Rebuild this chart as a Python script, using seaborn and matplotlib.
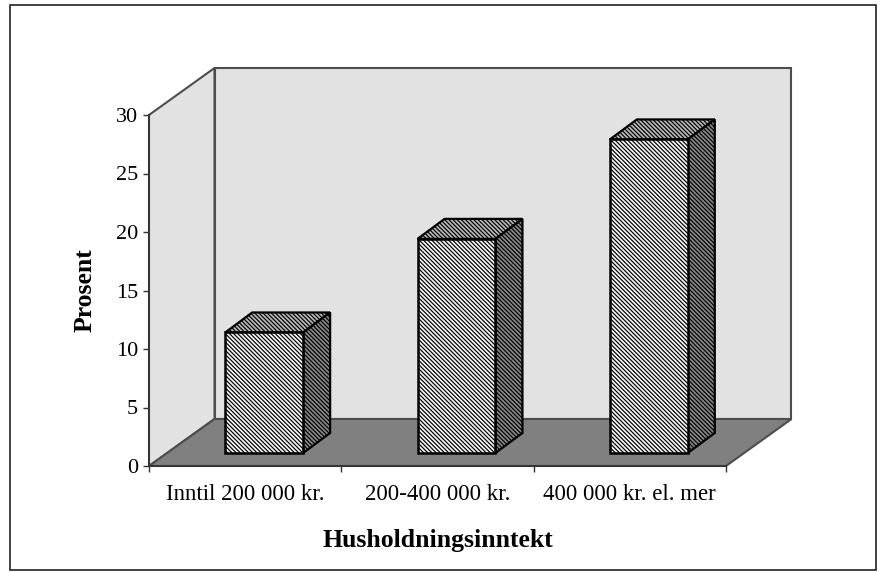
import matplotlib
matplotlib.use("Agg")
import matplotlib.pyplot as plt
from matplotlib.patches import Polygon, Rectangle
from matplotlib.transforms import Affine2D
import seaborn as sns

categories = ["Inntil 200 000 kr.", "200-400 000 kr.", "400 000 kr. el. mer"]
values = [10.3, 18.3, 26.8]
y_ticks = [0, 5, 10, 15, 20, 25, 30]
x_label = "Husholdningsinntekt"
y_label = "Prosent"

W, H = 886, 572
AX_L, AX_R, AX_T, AX_B = 149, 726, 115, 466
sns.set_theme(style="white")
plt.rcParams["font.family"] = ["Liberation Serif", "DejaVu Serif"]
plt.rcParams["hatch.linewidth"] = 0.85

fig = plt.figure(figsize=(W / 100, H / 100), dpi=100, facecolor="white")
ax = fig.add_axes([AX_L / W, 1 - AX_B / H, (AX_R - AX_L) / W, (AX_B - AX_T) / H])
ax.set_facecolor("none")

sns.barplot(x=categories, y=values, color="#f4f4f4", saturation=1, width=0.405,
            edgecolor="black", linewidth=1.8, ax=ax, zorder=3)
ax.set_xlim(-0.5, 2.5)
ax.set_ylim(0, 30)

px = (AX_R - AX_L) / 3
py = (AX_B - AX_T) / 30
wall_dx, wall_dy = 65.5 / px, 47 / py       # depth of the chart box
bar_ox, bar_oy = 19 / px, 13 / py           # bars stand inside the floor
bar_dx, bar_dy = 27 / px, 20 / py           # depth of one bar

wall = "#e2e2e2"
line = "#4d4d4d"
x0, x1 = -0.5, 2.5
pk = dict(closed=True, clip_on=False, zorder=0.5)
ax.add_patch(Polygon([(x0 + wall_dx, wall_dy), (x1 + wall_dx, wall_dy),
                      (x1 + wall_dx, 30 + wall_dy), (x0 + wall_dx, 30 + wall_dy)],
                     fc=wall, ec=line, lw=1.5, **pk))
ax.add_patch(Polygon([(x0, 0), (x0 + wall_dx, wall_dy), (x0 + wall_dx, 30 + wall_dy), (x0, 30)],
                     fc=wall, ec=line, lw=1.5, **pk))
ax.add_patch(Polygon([(x0, 0), (x1, 0), (x1 + wall_dx, wall_dy), (x0 + wall_dx, wall_dy)],
                     fc="#808080", ec=line, lw=1.5, **pk))

hatch = "\\" * 8
for bar in list(ax.patches):
    if not isinstance(bar, Rectangle):
        continue
    bx, bw, bh = bar.get_x(), bar.get_width(), bar.get_height()
    bar.set_transform(Affine2D().translate(bar_ox, bar_oy) + ax.transData)
    bar.set_clip_on(False)
    bar.set_hatch(hatch)
    l, r = bx + bar_ox, bx + bw + bar_ox
    b, t = bar_oy, bh + bar_oy
    ax.add_patch(Polygon([(l, t), (r, t), (r + bar_dx, t + bar_dy), (l + bar_dx, t + bar_dy)],
                         closed=True, fc="#b8b8b8", ec="black", lw=1.6, hatch=hatch,
                         clip_on=False, zorder=2.8))
    ax.add_patch(Polygon([(r, b), (r + bar_dx, b + bar_dy), (r + bar_dx, t + bar_dy), (r, t)],
                         closed=True, fc="#888888", ec="black", lw=1.6, hatch=hatch,
                         clip_on=False, zorder=2.8))

sns.despine(ax=ax, top=True, right=True)
for s in ("left", "bottom"):
    ax.spines[s].set_color("#333333")
    ax.spines[s].set_linewidth(1.3)
    ax.spines[s].set_zorder(1)

ax.set_yticks(y_ticks)
ax.set_xticks([-0.5, 0.5, 1.5, 2.5], minor=True)
ax.tick_params(axis="y", which="major", left=True, length=4, width=1, color="#333333",
               labelsize=16, pad=4, labelcolor="black")
ax.tick_params(axis="x", which="major", bottom=False, length=0, labelsize=16.5, pad=13,
               labelcolor="black")
ax.tick_params(axis="x", which="minor", bottom=True, length=4.5, width=1, color="#333333")
ax.set_xlabel(x_label, fontsize=18.5, fontweight="bold", color="black", labelpad=17)
ax.set_ylabel(y_label, fontsize=18.5, fontweight="bold", color="black", labelpad=14)

fig.add_artist(Rectangle((10 / W, 1 - 570 / H), 866 / W, 565 / H, transform=fig.transFigure,
                         fill=False, ec="#222222", lw=1.2))
fig.savefig("out.png", dpi=100)
